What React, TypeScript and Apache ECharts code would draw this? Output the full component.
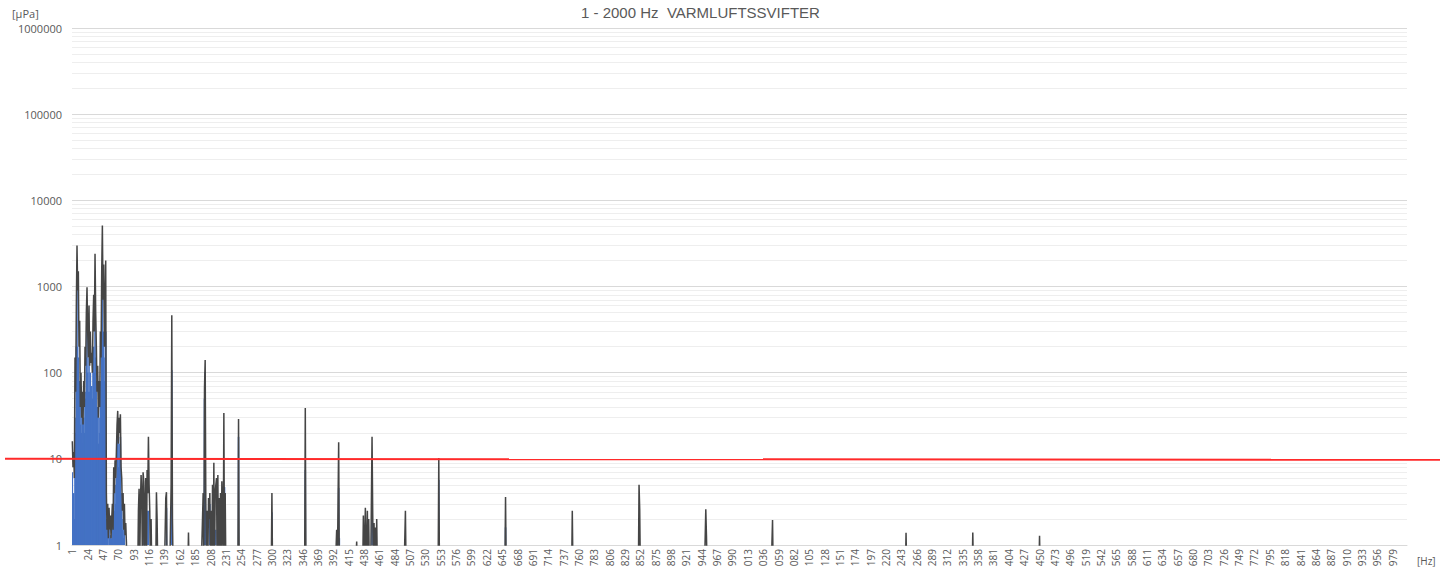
import React, { useEffect, useRef } from "react";
import * as echarts from "echarts";

// Frequency categories (Hz)
const categories: number[] = Array.from({ length: 2000 }, (_, i) => i + 1);

// Dense low-frequency band, 1..82 Hz (µPa) – dark grey trace
const greyLow: number[] = [
  16, 8, 12, 6, 150, 60, 600, 3000, 900, 1500,
  200, 400, 40, 100, 30, 60, 25, 80, 40, 200,
  120, 500, 980, 300, 150, 600, 120, 300, 130, 170,
  100, 400, 800, 300, 2400, 500, 200, 60, 120, 30,
  80, 40, 300, 150, 1500, 5100, 700, 1800, 200, 600,
  2000, 4, 1.5, 3, 1.2, 2.7, 1.5, 2.2, 1.2, 2,
  3, 1.5, 8, 4, 9.6, 6, 12, 25, 36, 15,
  30, 20, 33, 8, 6, 2.5, 4, 1.5, 3, 1.3,
  1.8, 1.1,
];

// Dense low-frequency band, 1..82 Hz (µPa) – blue bars
const blueLow: (number | null)[] = [
  7, 3, 4, 2, 30, 20, 200, 1800, 200, 150,
  60, 80, 25, 40, 20, 30, 15, 30, 20, 60,
  50, 150, 550, 100, 60, 150, 60, 100, 60, 70,
  50, 120, 200, 100, 490, 150, 80, 30, 40, 15,
  30, 20, 80, 60, 300, 1290, 200, 300, 80, 150,
  300, 2, 1.2, 1.8, null, 1.5, 1.2, 1.3, null, 1.2,
  2, 1.2, 4, 2.5, 5, 3, 6, 12, 18, 8,
  15, 10, 18, 4, 3, 1.5, 2, 1.2, 1.5, null,
  null, null,
];

// Isolated components above 82 Hz: [Hz, µPa] – dark grey trace
const greySpikes: [number, number][] = [
  [100, 2.5], [101, 4.5], [103, 3], [104, 6.5], [105, 4], [107, 7], [108, 5.5],
  [110, 3], [111, 6], [113, 7.4], [114, 4], [115, 18], [116, 5], [117, 2.5],
  [119, 2], [127, 4.1], [128, 2], [141, 3.5], [142, 4.1], [149, 5], [150, 465],
  [151, 2], [175, 1.4], [196, 2], [197, 4], [199, 66], [200, 140], [201, 3],
  [203, 2.5], [205, 3.5], [206, 2], [207, 4], [209, 2.5], [211, 5], [213, 9],
  [215, 4], [216, 5], [217, 6], [219, 6.5], [221, 3.5], [223, 4], [225, 5.5],
  [226, 3], [228, 34], [230, 4], [250, 29], [300, 4], [350, 39], [397, 1.5],
  [400, 15.6], [427, 1.1], [437, 2.2], [440, 2.7], [443, 2.5], [445, 2],
  [450, 18], [451, 2.3], [453, 1.8], [455, 1.6], [457, 2], [500, 2.5],
  [550, 10.2], [650, 3.6], [750, 2.5], [850, 5], [851, 2.6], [950, 2.6],
  [951, 1.3], [1050, 1.95], [1250, 1.39], [1350, 1.4], [1450, 1.28],
];

// Isolated components above 82 Hz: [Hz, µPa] – blue bars
const blueSpikes: [number, number][] = [
  [107, 2], [110, 2.3], [113, 2.5], [115, 2.5], [142, 2.7], [150, 107],
  [199, 50], [200, 102], [207, 3], [216, 1.5], [229, 4.7], [230, 3],
  [250, 18], [300, 2.4], [350, 7.4], [400, 4.6], [401, 1.2], [450, 2],
  [550, 5.7], [650, 1.6],
];

const yDecades: number[] = [1, 10, 100, 1000, 10000, 100000, 1000000];
const LIMIT = 10; // red reference level (µPa)
const BELOW_AXIS = 0.5; // below the 1 µPa floor of the axis

const TXT = "#595959";

export default function App() {
  const ref = useRef<HTMLDivElement>(null);

  useEffect(() => {
    const el = ref.current;
    if (!el) return;
    const chart = echarts.init(el, undefined, { renderer: "svg" });

    const greyMap = new Map<number, number>();
    greyLow.forEach((v, i) => greyMap.set(i + 1, v));
    greySpikes.forEach(([f, v]) => greyMap.set(f, v));
    const blueMap = new Map<number, number | null>();
    blueLow.forEach((v, i) => blueMap.set(i + 1, v));
    blueSpikes.forEach(([f, v]) => blueMap.set(f, v));

    const greyData = categories.map((f) => greyMap.get(f) ?? BELOW_AXIS);
    const blueData = categories.map((f) => blueMap.get(f) ?? null);

    const minorLines: number[] = [];
    yDecades.slice(0, -1).forEach((d) => {
      [2, 3, 4, 5, 6, 7, 8, 9].forEach((m) => minorLines.push(m * d));
    });

    const option: any = {
      animation: false,
      backgroundColor: "#ffffff",
      title: {
        text: "1 - 2000 Hz\u00a0\u00a0VARMLUFTSSVIFTER",
        left: 576,
        top: 0,
        textStyle: {
          color: TXT,
          fontSize: 15,
          fontWeight: "normal",
          fontFamily: "Liberation Sans",
        },
      },
      grid: { left: 72, right: 46, top: 28, bottom: 27, containLabel: false },
      xAxis: {
        type: "category",
        data: categories,
        axisLine: { show: true, lineStyle: { color: "#d9d9d9", width: 1 } },
        axisTick: { show: false },
        splitLine: { show: false },
        axisLabel: {
          interval: 22,
          rotate: 90,
          fontSize: 10,
          color: TXT,
          margin: 4,
          fontFamily: "Open Sans",
          formatter: (v: any) => {
            const s = String(v);
            return s.length > 3 ? s.slice(-3) : s;
          },
        },
      },
      yAxis: {
        type: "log",
        logBase: 10,
        min: 1,
        max: 1000000,
        splitNumber: 6,
        axisLine: { show: false },
        axisTick: { show: false },
        splitLine: { show: true, lineStyle: { color: "#d9d9d9", width: 1 } },
        axisLabel: {
          color: TXT,
          fontSize: 11,
          margin: 10,
          fontFamily: "Open Sans",
          formatter: (v: number) => String(Math.round(v)),
        },
      },
      series: [
        {
          type: "line",
          name: "grid",
          data: [],
          z: 1,
          silent: true,
          markLine: {
            z: 1,
            silent: true,
            symbol: "none",
            label: { show: false },
            lineStyle: { color: "#eeeeee", type: "solid", width: 1 },
            data: minorLines.map((v) => ({ yAxis: v })),
          },
        },
        {
          type: "bar",
          name: "blue",
          data: blueData,
          barWidth: 1.6,
          itemStyle: { color: "#4472c4" },
          z: 2,
          clip: true,
          large: false,
        },
        {
          type: "line",
          name: "grey",
          data: greyData,
          showSymbol: false,
          symbol: "none",
          lineStyle: { color: "#454545", width: 1.5 },
          z: 3,
          clip: true,
        },
      ],
    };

    chart.setOption(option);

    const yPix = chart.convertToPixel({ yAxisIndex: 0 }, LIMIT) as number;

    chart.setOption({
      graphic: [
        {
          type: "line",
          z: 100,
          shape: { x1: 5, y1: yPix, x2: 1440, y2: yPix + 1 },
          style: { stroke: "#ff2a2a", lineWidth: 2 },
          silent: true,
        },
        {
          type: "text",
          left: 12,
          top: 8,
          style: { text: "[µPa]", fill: TXT, fontSize: 11, fontFamily: "Open Sans" },
        },
        {
          type: "text",
          left: 1417,
          top: 556,
          style: { text: "[Hz]", fill: TXT, fontSize: 10, fontFamily: "Open Sans" },
        },
      ],
    });

    return () => chart.dispose();
  }, []);

  return (
    <div
      ref={ref}
      style={{ position: "absolute", left: 0, top: 0, width: 1453, height: 572 }}
    />
  );
}
